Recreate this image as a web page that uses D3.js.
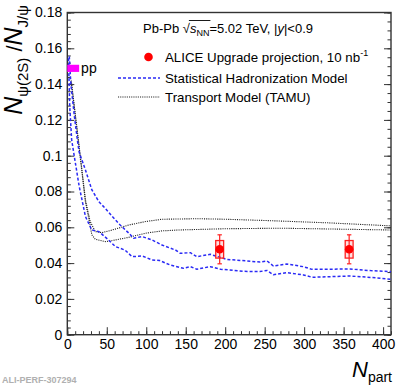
<!DOCTYPE html>
<html>
<head>
<meta charset="utf-8">
<script src="https://cdn.jsdelivr.net/npm/d3@7"></script>
<style>
body { margin: 0; background: #fff; }
text { font-family: "Liberation Sans", Arial, sans-serif; fill: #000; }
</style>
</head>
<body>
<div id="chart"></div>
<script>
// ---- data ----
var xTicks = [0, 50, 100, 150, 200, 250, 300, 350, 400];
var yTicks = [0, 0.02, 0.04, 0.06, 0.08, 0.1, 0.12, 0.14, 0.16, 0.18];

// Statistical Hadronization Model band (upper / lower edge), [Npart, ratio]
var shmUpper = [[2.5,0.1555],[4.5,0.140],[9,0.122],[13,0.108],[15,0.102],[19,0.097],[23,0.092],[31,0.081],
  [40,0.0743],[48,0.0706],[57,0.066],[67,0.0613],[78,0.0567],[84,0.0539],[95,0.0548],[107,0.053],
  [120,0.0501],[137,0.0473],[143,0.0455],[156,0.0458],[164,0.0436],[181,0.0449],[202,0.0421],
  [244,0.0406],[253,0.0412],[261,0.0384],[278,0.0395],[299,0.038],[310,0.0365],[358,0.0367],
  [384,0.0358],[410,0.0352]];
var shmLower = [[1.5,0.1545],[3,0.128],[5.5,0.109],[8,0.102],[15,0.083],[23,0.066],[31,0.0585],
  [40,0.0576],[52,0.053],[61,0.0492],[73,0.0473],[82,0.0436],[95,0.044],[107,0.0418],[117,0.0414],
  [130,0.039],[147,0.0371],[156,0.038],[164,0.0366],[181,0.038],[194,0.0366],[223,0.0354],
  [244,0.0353],[253,0.0359],[261,0.0335],[278,0.0347],[299,0.0334],[310,0.0321],[358,0.0328],
  [384,0.032],[410,0.031]];

// Transport Model (TAMU), upper / lower edge
var tamuUpper = [[5,0.142],[14,0.109],[23,0.0753],[29,0.0632],[35.5,0.0576],[44,0.057],[57,0.0585],
  [78,0.0613],[99,0.0632],[120,0.0645],[165,0.0648],[200,0.0645],[257,0.0637],[330,0.0625],[410,0.0608]];
var tamuLower = [[5,0.141],[14,0.108],[23,0.074],[29,0.061],[31,0.0558],[35.5,0.0533],[48,0.052],
  [57,0.0526],[78,0.0544],[99,0.0567],[120,0.058],[141,0.0585],[200,0.0592],[270,0.0595],
  [340,0.059],[410,0.0585]];

// ALICE upgrade projection
var aliceNpart = [193, 357];
var aliceRatio = [0.0477, 0.0477];
var aliceStat = [0.0081, 0.0081];
var aliceSyst = [0.0049, 0.0049];

// pp reference
var ppRatio = 0.1488;
var ppErr = 0.002;

// ---- layout ----
var W = 407, H = 385;
var margin = {top: 12.5, left: 67.3, right: 16, bottom: 50.3};
var width = W - margin.left - margin.right;
var height = H - margin.top - margin.bottom;

var svg = d3.select("#chart").append("svg")
    .attr("width", W)
    .attr("height", H);
var g = svg.append("g")
    .attr("transform", "translate(" + margin.left + "," + margin.top + ")");

var x = d3.scaleLinear().domain([0, 410]).range([0, width]);
var y = d3.scaleLinear().domain([0, 0.18]).range([height, 0]);

// minor ticks
var xMinor = d3.range(0, 411, 10);
var yMinorL = d3.range(0, 0.1801, 0.004);
var yMinorR = d3.range(0, 0.1801, 0.005);

function fmtY(d) { return d === 0 ? "0" : d3.format(".2~f")(d); }

g.append("g").attr("class", "axis")
    .call(d3.axisLeft(y).tickValues(yMinorL).tickSizeInner(-3.5).tickSizeOuter(0).tickFormat(""));
g.append("g").attr("class", "axis")
    .call(d3.axisLeft(y).tickValues(yTicks).tickSizeInner(-7).tickSizeOuter(0).tickPadding(5).tickFormat(fmtY));
g.append("g").attr("class", "axis").attr("transform", "translate(" + width + ",0)")
    .call(d3.axisRight(y).tickValues(yMinorR).tickSizeInner(-3.5).tickSizeOuter(0).tickFormat(""));
g.append("g").attr("class", "axis").attr("transform", "translate(" + width + ",0)")
    .call(d3.axisRight(y).tickValues(yTicks).tickSizeInner(-7).tickSizeOuter(0).tickFormat(""));
g.append("g").attr("class", "axis").attr("transform", "translate(0," + height + ")")
    .call(d3.axisBottom(x).tickValues(xMinor).tickSizeInner(-3.5).tickSizeOuter(0).tickFormat(""));
g.append("g").attr("class", "axis").attr("transform", "translate(0," + height + ")")
    .call(d3.axisBottom(x).tickValues(xTicks).tickSizeInner(-7.5).tickSizeOuter(0).tickPadding(4));

g.selectAll(".axis .domain").remove();
g.selectAll(".axis line").attr("stroke", "#333").attr("stroke-width", 1);
g.selectAll(".axis text").attr("font-size", 14).attr("font-family", "Liberation Sans, Arial, sans-serif").attr("fill", "#000");

// frame
g.append("rect")
    .attr("width", width).attr("height", height)
    .attr("fill", "none").attr("stroke", "#333").attr("stroke-width", 1.4);

// curves
var line = d3.line().x(function(d){ return x(d[0]); }).y(function(d){ return y(d[1]); });

[tamuUpper, tamuLower].forEach(function(s){
  g.append("path").datum(s).attr("d", line)
    .attr("fill", "none").attr("stroke", "#222").attr("stroke-width", 1.1)
    .attr("stroke-dasharray", "1.1,1.1");
});
[shmUpper, shmLower].forEach(function(s){
  g.append("path").datum(s).attr("d", line)
    .attr("fill", "none").attr("stroke", "#2a2af5").attr("stroke-width", 1.5)
    .attr("stroke-dasharray", "3,2");
});

// pp reference
g.append("rect")
    .attr("x", x(0)).attr("width", x(15) - x(0))
    .attr("y", y(ppRatio + ppErr)).attr("height", y(ppRatio - ppErr) - y(ppRatio + ppErr))
    .attr("fill", "#ff00ff");
g.append("text").attr("x", x(17.5)).attr("y", y(ppRatio) + 4.5)
    .attr("font-size", 14).text("pp");

// ALICE projection points
var pts = aliceNpart.map(function(n, i){
  return {n: n, r: aliceRatio[i], st: aliceStat[i], sy: aliceSyst[i]};
});
var pg = g.selectAll(".pt").data(pts).enter().append("g").attr("class", "pt");
pg.append("rect")
    .attr("x", function(d){ return x(d.n - 5); })
    .attr("width", function(d){ return x(d.n + 5) - x(d.n - 5); })
    .attr("y", function(d){ return y(d.r + d.sy); })
    .attr("height", function(d){ return y(d.r - d.sy) - y(d.r + d.sy); })
    .attr("fill", "#ff0000").attr("fill-opacity", 0.12)
    .attr("stroke", "#ff2020").attr("stroke-width", 1.3);
pg.append("line")
    .attr("x1", function(d){ return x(d.n); }).attr("x2", function(d){ return x(d.n); })
    .attr("y1", function(d){ return y(d.r + d.st); }).attr("y2", function(d){ return y(d.r - d.st); })
    .attr("stroke", "#ff2020").attr("stroke-width", 1.2);
[1, -1].forEach(function(sg){
  pg.append("line")
    .attr("x1", function(d){ return x(d.n) - 2.2; }).attr("x2", function(d){ return x(d.n) + 2.2; })
    .attr("y1", function(d){ return y(d.r + sg * d.st); }).attr("y2", function(d){ return y(d.r + sg * d.st); })
    .attr("stroke", "#ff2020").attr("stroke-width", 1.2);
});
pg.append("circle")
    .attr("cx", function(d){ return x(d.n); }).attr("cy", function(d){ return y(d.r); })
    .attr("r", 4.3).attr("fill", "#ff0000");

// legend
var hdr = svg.append("text").attr("x", 143).attr("y", 33).attr("font-size", 13);
hdr.append("tspan").text("Pb-Pb ");
hdr.append("tspan").text("\u221A");
hdr.append("tspan").attr("font-style", "italic").text("s");
hdr.append("tspan").attr("font-size", 9).attr("dy", 3).text("NN");
hdr.append("tspan").attr("dy", -3).text("=5.02 TeV, |");
hdr.append("tspan").attr("font-style", "italic").text("y");
hdr.append("tspan").text("|<0.9");
// overline of the square root
var hn = hdr.node();
var sx0 = hn.getStartPositionOfChar(7).x;
var sx1 = hn.getEndPositionOfChar(9).x;
svg.append("line").attr("x1", sx0 - 1).attr("x2", sx1 + 1)
    .attr("y1", 20.5).attr("y2", 20.5).attr("stroke", "#000").attr("stroke-width", 0.9);

svg.append("circle").attr("cx", 148.5).attr("cy", 57).attr("r", 4.3).attr("fill", "#ff0000");
var t1 = svg.append("text").attr("x", 165).attr("y", 62).attr("font-size", 13.3);
t1.append("tspan").text("ALICE Upgrade projection, 10 nb");
t1.append("tspan").attr("font-size", 9).attr("dy", -6).text("-1");

svg.append("line").attr("x1", 118).attr("x2", 160).attr("y1", 78).attr("y2", 78)
    .attr("stroke", "#2a2af5").attr("stroke-width", 1.5).attr("stroke-dasharray", "3,2");
svg.append("text").attr("x", 165).attr("y", 83).attr("font-size", 13.3).text("Statistical Hadronization Model");

svg.append("line").attr("x1", 118).attr("x2", 160).attr("y1", 97).attr("y2", 97)
    .attr("stroke", "#222").attr("stroke-width", 1.1).attr("stroke-dasharray", "1.1,1.1");
svg.append("text").attr("x", 165).attr("y", 102).attr("font-size", 13.3).text("Transport Model (TAMU)");

// axis titles
var yt = svg.append("text").attr("transform", "translate(22,5) rotate(-90)")
    .attr("text-anchor", "end");
yt.append("tspan").attr("font-size", 25).attr("font-style", "italic").text("N");
yt.append("tspan").attr("font-size", 15).attr("dy", 6).text("\u03C8(2S)");
yt.append("tspan").attr("font-size", 22).attr("dy", -6).text(" /");
yt.append("tspan").attr("font-size", 25).attr("font-style", "italic").text("N");
yt.append("tspan").attr("font-size", 15).attr("dy", 6).text("J/\u03C8");

var xt = svg.append("text").attr("x", 392).attr("y", 377).attr("text-anchor", "end");
xt.append("tspan").attr("font-size", 22).attr("font-style", "italic").text("N");
xt.append("tspan").attr("font-size", 14).attr("dy", 5).text("part");

// watermark
svg.append("text").attr("x", 2).attr("y", 383)
    .attr("font-family", "Liberation Mono, monospace").attr("font-size", 9)
    .attr("font-weight", "bold").style("fill", "#b0b0b0").text("ALI-PERF-307294");
</script>
</body>
</html>
